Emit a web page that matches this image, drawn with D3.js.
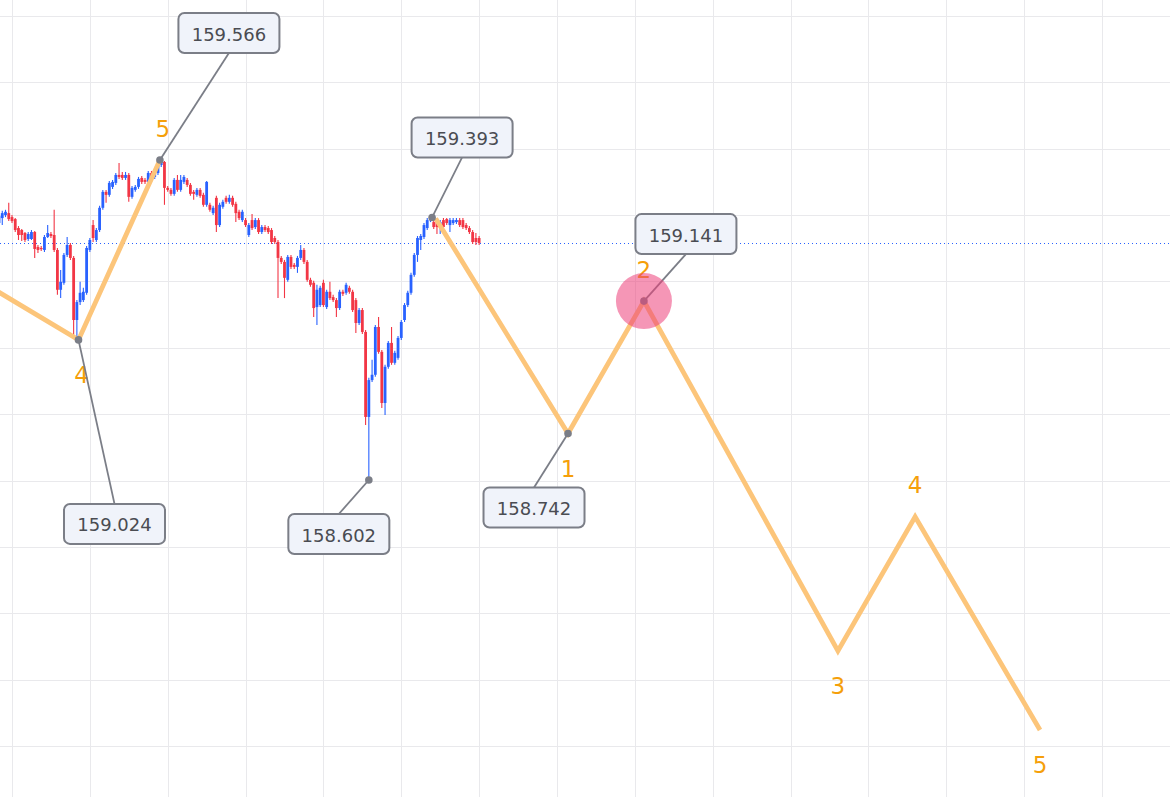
<!DOCTYPE html>
<html>
<head>
<meta charset="utf-8">
<script src="https://cdn.jsdelivr.net/npm/d3@7"></script>
<style>
  html, body { margin: 0; padding: 0; background: #ffffff; overflow: hidden; }
  svg { display: block; }
</style>
</head>
<body>
<svg id="chart" width="1170" height="797"></svg>
<script>
// ---------------- DATA ----------------
const opens = [
159.376,159.391,159.400,159.406,159.394,159.388,159.361,159.355,159.346,159.328,
159.328,159.349,159.304,159.301,159.295,159.334,159.343,159.340,159.295,159.175,
159.196,159.280,159.310,159.271,159.084,159.138,159.144,159.166,159.295,159.370,
159.325,159.355,159.422,159.470,159.461,159.485,159.497,159.521,159.521,159.512,
159.521,159.455,159.476,159.485,159.512,159.506,159.500,159.527,159.515,159.527,
159.551,159.560,159.482,159.476,159.464,159.506,159.476,159.500,159.506,159.491,
159.470,159.461,159.476,159.461,159.431,159.431,159.406,159.452,159.370,159.425,
159.452,159.440,159.452,159.434,159.410,159.385,159.385,159.340,159.385,159.364,
159.385,159.349,159.364,159.361,159.355,159.331,159.319,159.271,159.259,159.205,
159.274,159.250,159.244,159.271,159.295,159.259,159.205,159.196,159.123,159.129,
159.196,159.123,159.169,159.153,159.144,159.120,159.169,159.166,159.181,159.169,
159.144,159.075,159.114,159.048,158.792,158.903,158.919,159.063,158.988,158.834,
158.943,159.015,158.955,158.970,159.030,159.084,159.129,159.166,159.220,159.280,
159.325,159.334,159.361,159.385,159.379,159.379,159.364,159.385,159.388,159.370,
159.376,159.379,159.385,159.385,159.370,159.361,159.349,159.331,159.331];
const highs = [
159.403,159.413,159.416,159.437,159.400,159.391,159.367,159.358,159.349,159.349,
159.355,159.352,159.310,159.307,159.340,159.370,159.349,159.416,159.301,159.235,
159.286,159.334,159.316,159.277,159.144,159.199,159.181,159.307,159.331,159.385,
159.361,159.428,159.476,159.476,159.503,159.506,159.527,159.557,159.530,159.530,
159.527,159.488,159.491,159.515,159.518,159.512,159.533,159.533,159.542,159.557,
159.566,159.563,159.488,159.482,159.512,159.521,159.521,159.521,159.512,159.497,
159.476,159.482,159.482,159.467,159.503,159.437,159.428,159.458,159.437,159.446,
159.458,159.461,159.458,159.440,159.416,159.416,159.391,159.376,159.403,159.391,
159.391,159.370,159.370,159.367,159.361,159.337,159.325,159.277,159.265,159.280,
159.280,159.256,159.277,159.310,159.301,159.265,159.211,159.202,159.190,159.187,
159.205,159.175,159.199,159.160,159.150,159.175,159.175,159.196,159.187,159.175,
159.150,159.120,159.120,159.054,158.910,158.964,159.069,159.093,158.994,158.949,
159.021,159.063,158.991,159.036,159.084,159.135,159.172,159.226,159.286,159.337,
159.343,159.376,159.391,159.393,159.391,159.391,159.385,159.391,159.391,159.391,
159.391,159.391,159.391,159.391,159.376,159.367,159.355,159.346,159.337];
const lows = [
159.370,159.370,159.394,159.382,159.376,159.349,159.325,159.322,159.319,159.322,
159.325,159.271,159.286,159.292,159.289,159.331,159.331,159.289,159.160,159.150,
159.190,159.274,159.265,159.039,159.024,159.129,159.138,159.160,159.289,159.319,
159.319,159.349,159.416,159.437,159.455,159.479,159.491,159.509,159.506,159.506,
159.440,159.449,159.470,159.479,159.494,159.494,159.494,159.509,159.509,159.521,
159.545,159.431,159.470,159.458,159.458,159.470,159.470,159.494,159.485,159.458,
159.446,159.455,159.452,159.425,159.425,159.410,159.400,159.349,159.364,159.419,
159.434,159.434,159.425,159.379,159.385,159.379,159.364,159.334,159.355,159.358,
159.343,159.343,159.349,159.343,159.313,159.313,159.150,159.253,159.150,159.199,
159.238,159.238,159.226,159.265,159.253,159.199,159.184,159.093,159.069,159.123,
159.123,159.117,159.144,159.138,159.093,159.114,159.156,159.160,159.163,159.108,
159.045,159.069,159.042,158.768,158.602,158.897,158.913,158.982,158.819,158.798,
158.937,158.949,158.949,158.964,159.024,159.078,159.123,159.160,159.214,159.259,
159.295,159.328,159.355,159.379,159.358,159.343,159.343,159.358,159.370,159.349,
159.370,159.373,159.364,159.358,159.355,159.343,159.313,159.310,159.310];
const closes = [
159.397,159.406,159.410,159.388,159.382,159.355,159.340,159.340,159.325,159.343,
159.349,159.298,159.295,159.298,159.334,159.346,159.337,159.295,159.175,159.199,
159.280,159.310,159.271,159.084,159.138,159.166,159.169,159.301,159.325,159.331,
159.355,159.422,159.470,159.461,159.497,159.500,159.521,159.515,159.512,159.521,
159.455,159.482,159.485,159.509,159.500,159.500,159.527,159.515,159.530,159.551,
159.563,159.482,159.476,159.464,159.506,159.476,159.506,159.515,159.491,159.464,
159.464,159.476,159.458,159.431,159.500,159.416,159.422,159.370,159.431,159.440,
159.440,159.452,159.431,159.406,159.391,159.410,159.370,159.370,159.361,159.385,
159.349,159.364,159.355,159.349,159.319,159.319,159.271,159.259,159.211,159.274,
159.244,159.244,159.271,159.295,159.259,159.205,159.190,159.120,159.175,159.181,
159.129,159.169,159.150,159.144,159.120,159.169,159.163,159.190,159.169,159.114,
159.075,159.114,159.048,158.792,158.903,158.919,159.063,158.988,158.834,158.943,
159.015,158.955,158.985,159.030,159.078,159.129,159.166,159.220,159.280,159.331,
159.337,159.370,159.385,159.388,159.364,159.364,159.379,159.364,159.376,159.385,
159.385,159.385,159.370,159.364,159.361,159.349,159.319,159.319,159.316];

// Elliott wave projections (bar index, price, label)
const waveABars   = [-3, 24.5, 49.6];
const waveAPrices = [159.185, 159.024, 159.566];
const waveALabels = ["", "4", "5"];
const waveBBars   = [134.6, 175.4, 198.8, 258.6, 282.4, 320.9];
const waveBPrices = [159.390, 158.742, 159.141, 158.087, 158.491, 157.849];
const waveBLabels = ["", "1", "2", "3", "4", "5"];

// Price callouts (bar index of pivot, price)
const calloutBars   = [49.6, 133.5, 198.8, 24.5, 114, 175.4];
const calloutValues = [159.566, 159.393, 159.141, 159.024, 158.602, 158.742];

// grid ticks
const gridPrices = [157.6,157.8,158.0,158.2,158.4,158.6,158.8,159.0,159.2,159.4,159.6,159.8,160.0,160.2];
const gridBars = [4,28,52,76,100,124,148,172,196,220,244,268,292,316,340];

// highlighted pivot (wave 2)
const highlightBar = 198.8, highlightPrice = 159.141;

// ---------------- LAYOUT / STYLE ----------------
const W = 1170, H = 797;
const svg = d3.select("#chart");
const x = d3.scaleLinear().domain([0, 24]).range([-0.98, -0.98 + 24 * 3.244]);
const y = d3.scaleLinear().domain([159.566, 158.602]).range([160, 480]);

const UP = "#2962ff", DOWN = "#f23645";
const GRID = "#e9e9ec";
const WAVE = "#fcc57a", WAVE_TXT = "#f59f0a";
const CALLOUT_STROKE = "#7b7e87";

// grid
const g = svg.append("g");
g.selectAll("line.h").data(gridPrices).join("line")
  .attr("x1", 0).attr("x2", W)
  .attr("y1", d => Math.round(y(d)) + 0.5).attr("y2", d => Math.round(y(d)) + 0.5)
  .attr("stroke", GRID).attr("stroke-width", 1);
g.selectAll("line.v").data(gridBars).join("line")
  .attr("y1", 0).attr("y2", H)
  .attr("x1", d => Math.round(x(d)) + 0.5).attr("x2", d => Math.round(x(d)) + 0.5)
  .attr("stroke", GRID).attr("stroke-width", 1);

// current price dotted line
const last = closes[closes.length - 1];
svg.append("line")
  .attr("x1", 0).attr("x2", W)
  .attr("y1", Math.round(y(last)) + 0.5).attr("y2", Math.round(y(last)) + 0.5)
  .attr("stroke", UP).attr("stroke-width", 1).attr("stroke-dasharray", "1,3");

// candles
const candles = opens.map((o, i) => ({ i, o, h: highs[i], l: lows[i], c: closes[i] }));
const cg = svg.append("g");
const bw = 2.8;
cg.selectAll("line.wick").data(candles).join("line")
  .attr("x1", d => x(d.i)).attr("x2", d => x(d.i))
  .attr("y1", d => y(d.h)).attr("y2", d => y(d.l))
  .attr("stroke", d => d.c >= d.o ? UP : DOWN).attr("stroke-width", 1.1);
cg.selectAll("rect").data(candles).join("rect")
  .attr("x", d => x(d.i) - bw / 2)
  .attr("width", bw)
  .attr("y", d => y(Math.max(d.o, d.c)))
  .attr("height", d => Math.max(1.2, Math.abs(y(d.o) - y(d.c))))
  .attr("fill", d => d.c >= d.o ? UP : DOWN);

// waves
const line = d3.line().x(d => x(d[0])).y(d => y(d[1]));
function drawWave(bars, prices, labels, first) {
  const pts = bars.map((b, k) => [b, prices[k]]);
  svg.append("path").datum(pts)
    .attr("d", line).attr("fill", "none")
    .attr("stroke", WAVE).attr("stroke-width", 4.8)
    .attr("stroke-linejoin", "miter").attr("stroke-linecap", "butt");
  pts.forEach((p, k) => {
    if (!labels[k]) return;
    const prev = pts[k - 1];
    const below = prev && prev[1] > p[1];
    svg.append("text")
      .attr("x", x(p[0]) + (first && k === 1 ? 3 : 0) + (first && k === 2 ? 3 : 0))
      .attr("y", y(p[1]) + (below ? 37 : -30))
      .attr("text-anchor", "middle").attr("dominant-baseline", "middle")
      .attr("font-family", "DejaVu Sans, sans-serif").attr("font-size", 23)
      .attr("fill", WAVE_TXT).text(labels[k]);
  });
}
drawWave(waveABars, waveAPrices, waveALabels, true);
drawWave(waveBBars, waveBPrices, waveBLabels, false);

// callouts
const boxOffsets = [[69, -127], [30, -80], [42, -67], [36, 184], [-30, 54], [-34, 74]];
const bwBox = 101, bhBox = 40;
const fmt = d3.format(".3f");
const callouts = calloutValues.map((v, k) => ({ v, b: calloutBars[k], off: boxOffsets[k] }));

svg.selectAll("line.conn").data(callouts).join("line")
  .attr("x1", d => x(d.b)).attr("y1", d => y(d.v))
  .attr("x2", d => x(d.b) + d.off[0])
  .attr("y2", d => y(d.v) + d.off[1] + (d.off[1] < 0 ? bhBox / 2 : -bhBox / 2))
  .attr("stroke", CALLOUT_STROKE).attr("stroke-width", 1.8);

svg.selectAll("circle.pivot").data(callouts).join("circle")
  .attr("cx", d => x(d.b)).attr("cy", d => y(d.v)).attr("r", 3.8)
  .attr("fill", CALLOUT_STROKE);

// highlight circle
svg.append("circle")
  .attr("cx", x(highlightBar)).attr("cy", y(highlightPrice)).attr("r", 28)
  .attr("fill", "#ec407a").attr("fill-opacity", 0.55);

const bg = svg.selectAll("g.box").data(callouts).join("g")
  .attr("transform", d => `translate(${x(d.b) + d.off[0]},${y(d.v) + d.off[1]})`);
bg.append("rect")
  .attr("x", -bwBox / 2).attr("y", -bhBox / 2)
  .attr("width", bwBox).attr("height", bhBox).attr("rx", 6)
  .attr("fill", "#f0f3fa").attr("stroke", CALLOUT_STROKE).attr("stroke-width", 2);
bg.append("text")
  .attr("text-anchor", "middle").attr("dominant-baseline", "central")
  .attr("y", 1)
  .attr("font-family", "DejaVu Sans, sans-serif").attr("font-size", 18)
  .attr("fill", "#4a4c52").text(d => fmt(d.v));
</script>
</body>
</html>
